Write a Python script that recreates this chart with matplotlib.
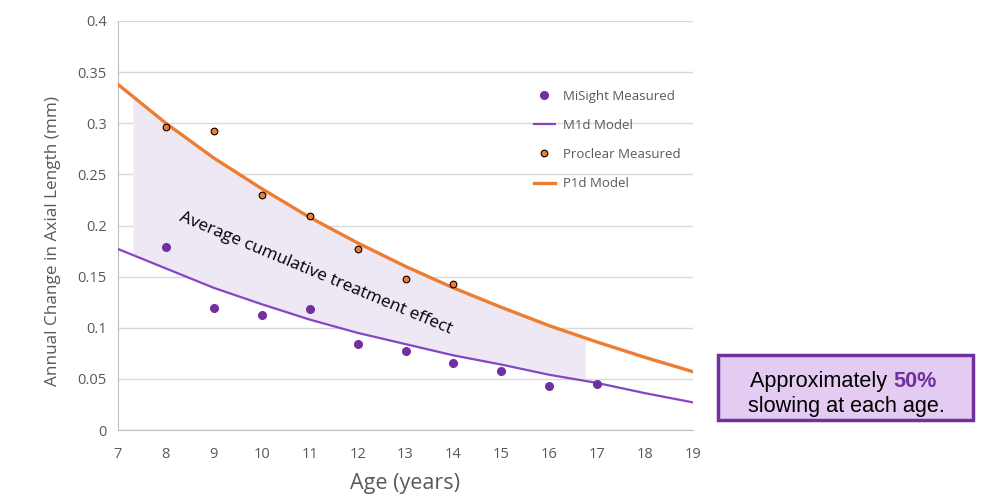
import numpy as np
import matplotlib
matplotlib.use("Agg")
import matplotlib.pyplot as plt
from matplotlib.patches import Rectangle
from matplotlib.text import Annotation

# ---- data ----
ages_meas = [8, 9, 10, 11, 12, 13, 14, 15, 16, 17]
misight = [0.179, 0.119, 0.112, 0.118, 0.084, 0.077, 0.0655, 0.058, 0.043, 0.045]

ages_proc = [8, 9, 10, 11, 12, 13, 14]
proclear = [0.296, 0.292, 0.230, 0.209, 0.177, 0.148, 0.143]

ages_model = [7, 8, 9, 10, 11, 12, 13, 14, 15, 16, 17, 18, 19]
m1d_model = [0.177, 0.158, 0.139, 0.123, 0.108, 0.095, 0.084, 0.073, 0.064, 0.054, 0.046, 0.036, 0.027]
p1d_model = [0.338, 0.300, 0.266, 0.236, 0.208, 0.183, 0.160, 0.139, 0.120, 0.102, 0.086, 0.071, 0.057]

shade_range = (7.31, 16.75)

x_ticks = list(range(7, 20))
y_ticks = [0, 0.05, 0.1, 0.15, 0.2, 0.25, 0.3, 0.35, 0.4]
y_tick_labels = ["0", "0.05", "0.1", "0.15", "0.2", "0.25", "0.3", "0.35", "0.4"]

PURPLE = "#7030A0"
PURPLE_LINE = "#8545C5"
ORANGE = "#ED7D31"
GRAY = "#595959"

plt.rcParams["font.family"] = ["Open Sans", "DejaVu Sans"]

fig = plt.figure(figsize=(10.08, 5.01), dpi=100)
ax = fig.add_axes([118/1008, 1-430/501, (693-118)/1008, (430-21)/501])

# shaded band
xs = np.linspace(shade_range[0], shade_range[1], 200)
top = np.interp(xs, ages_model, p1d_model)
bot = np.interp(xs, ages_model, m1d_model)
ax.fill_between(xs, bot, top, color="#EEE8F4", lw=0, zorder=1)

ax.plot(ages_model, m1d_model, color=PURPLE_LINE, lw=1.6, zorder=3, label="M1d Model")
ax.plot(ages_model, p1d_model, color=ORANGE, lw=2.4, zorder=3, label="P1d Model")
ax.plot(ages_meas, misight, "o", color=PURPLE, ms=5.5, mec=PURPLE, zorder=4, label="MiSight Measured")
ax.plot(ages_proc, proclear, "o", color=ORANGE, ms=4.8, mec="black", mew=0.8, zorder=4, label="Proclear Measured")

ax.set_xlim(7, 19)
ax.set_ylim(0, 0.4)
ax.set_xticks(x_ticks)
ax.set_yticks(y_ticks)
ax.set_yticklabels(y_tick_labels)
ax.tick_params(axis="y", length=0, colors=GRAY, labelsize=10.5, pad=8)
ax.tick_params(axis="x", length=0, colors=GRAY, labelsize=10.5, pad=12)
ax.grid(axis="y", color="#D9D9D9", lw=1)
ax.set_axisbelow(True)
for s in ["top", "right"]:
    ax.spines[s].set_visible(False)
ax.spines["left"].set_color("#BFBFBF")
ax.spines["bottom"].set_color("#BFBFBF")

ax.set_ylabel("Annual Change in Axial Length (mm)", color=GRAY, fontsize=12.3, labelpad=12, y=0.462)
ax.set_xlabel("Age (years)", color=GRAY, fontsize=15.5, labelpad=8)

# legend (order as reference)
h, l = ax.get_legend_handles_labels()
order = ["MiSight Measured", "M1d Model", "Proclear Measured", "P1d Model"]
hd = dict(zip(l, h))
leg = fig.legend([hd[k] for k in order], order, loc="upper left",
                 bbox_to_anchor=(522/1008, 1-78/501), frameon=False,
                 fontsize=9.5, labelspacing=1.22, handlelength=1.6, handletextpad=0.6)
for t in leg.get_texts():
    t.set_color(GRAY)

ax.text(11.12, 0.153, "Average cumulative treatment effect", rotation=-22.7,
        rotation_mode="anchor", ha="center", va="center", fontsize=12.4, color="black", zorder=5)

# callout box
fig.patches.append(Rectangle((718/1008, 1-420/501), (973-718)/1008, (420-355)/501,
                             transform=fig.transFigure, facecolor="#E4CBF2",
                             edgecolor=PURPLE, lw=2.5, zorder=0))
t1 = fig.text(750/1008, 1-387/501, "Approximately ", family="Liberation Sans",
              fontsize=15.6, ha="left", va="baseline", color="black", zorder=5)
a = Annotation("50%", xy=(1, 0), xycoords=t1, ha="left", va="bottom",
               family="Liberation Sans", fontsize=15.6, fontweight="bold", color=PURPLE,
               annotation_clip=False, zorder=5)
fig.add_artist(a)
fig.text(846/1008, 1-412/501, "slowing at each age.", family="Liberation Sans",
         fontsize=15.6, ha="center", va="baseline", color="black", zorder=5)

fig.savefig("out.png", dpi=100)
